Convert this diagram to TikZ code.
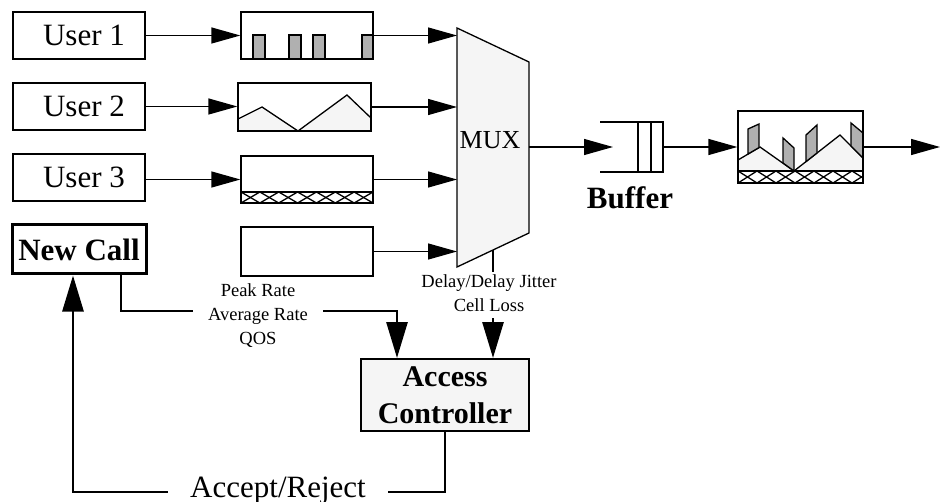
\documentclass[tikz,border=0pt]{standalone}
\usepackage{fontspec}
\setmainfont{Liberation Serif}
\usetikzlibrary{arrows.meta}
\definecolor{lightfill}{HTML}{F5F5F5}
\definecolor{bargrey}{HTML}{B0B0B0}
\begin{document}
\begin{tikzpicture}[x=1pt,y=-1pt,
  thinline/.style={line width=1.3pt},
  ubox/.style={draw, line width=1.3pt, rectangle, inner sep=0pt, minimum width=132pt, minimum height=47pt, font=\fontsize{31}{37}\selectfont},
  sigbox/.style={draw, line width=1.3pt, rectangle, inner sep=0pt},
  arr/.style={line width=1.3pt, -{Triangle[length=29pt,width=16pt]}},
  bigarr/.style={line width=2.8pt, -{Triangle[length=36pt,width=21pt]}},
  bar/.style={draw, line width=1.3pt, fill=bargrey, line join=miter},
  smalltext/.style={font=\fontsize{18.5}{24}\selectfont, align=center},
  hatch/.style={line width=1.3pt},
]
\useasboundingbox (0,0) rectangle (941,502);

% ---------- contents of signal boxes ----------
% box 1 bars
\foreach \a/\b in {253/265, 289/301, 313/325, 362/373}
  \draw[bar] (\a,35) rectangle (\b,59);
% box 2 wave
\fill[lightfill] (238,119) -- (262,107) -- (298,131) -- (347,95) -- (371,118) -- (371,131) -- (238,131) -- cycle;
\draw[thinline] (238,119) -- (262,107) -- (298,131) -- (347,95) -- (371,118);
% box 3 hatched strip
\begin{scope}
  \clip (241,192) rectangle (373,203);
  \foreach \i in {0,...,6} {
    \draw[hatch] (241+\i*18.857,192) -- (241+\i*18.857+18.857,203);
    \draw[hatch] (241+\i*18.857,203) -- (241+\i*18.857+18.857,192);
  }
\end{scope}
\draw[line width=1.6pt] (241,192) rectangle (373,203);

% output box contents
\fill[lightfill] (738,160) -- (760,147) -- (794,171) -- (840,135) -- (863,158) -- (863,171) -- (738,171) -- cycle;
\draw[thinline] (738,160) -- (760,147) -- (794,171) -- (840,135) -- (863,158);
\draw[bar] (748,154) -- (748,129) -- (759,124) -- (759,147.6) -- cycle;
\draw[bar] (783,163) -- (783,138) -- (794,148) -- (794,171) -- cycle;
\draw[bar] (806,161.6) -- (806,135) -- (817,125) -- (817,153) -- cycle;
\draw[bar] (851,146) -- (851,123) -- (863,133) -- (863,158) -- cycle;
\begin{scope}
  \clip (738,171) rectangle (863,183);
  \foreach \i in {0,...,6} {
    \draw[hatch] (738+\i*19,171) -- (738+\i*19+19,183);
    \draw[hatch] (738+\i*19,183) -- (738+\i*19+19,171);
  }
\end{scope}
\draw[line width=1.6pt] (738,171) rectangle (863,183);

% ---------- nodes ----------
\node[ubox] (u1) at (79,35.5) {\hspace*{10pt}User 1};
\node[ubox] (u2) at (79,106.5) {\hspace*{10pt}User 2};
\node[ubox] (u3) at (79,177.5) {\hspace*{10pt}User 3};

\node[sigbox, minimum width=132pt, minimum height=47pt] (b1) at (307,35.5) {};
\node[sigbox, minimum width=133pt, minimum height=48pt] (b2) at (304.5,107) {};
\node[sigbox, minimum width=132pt, minimum height=47pt] (b3) at (307,179.5) {};
\node[sigbox, minimum width=132pt, minimum height=49pt] (b4) at (307,251.5) {};

% MUX
\draw[thinline, fill=lightfill] (457,28) -- (529,62) -- (529,233) -- (457,267) -- cycle;
\node[font=\fontsize{26}{30}\selectfont] (mux) at (490,140) {MUX};
\coordinate (muxL) at (457,0);
\coordinate (muxR) at (529,147);
\coordinate (muxB) at (493,250);
\coordinate (stubEnd) at (493,272);

% buffer
\draw[thinline] (600,122) -- (663,122) -- (663,172) -- (600,172);
\draw[thinline] (638,122) -- (638,172) (651,122) -- (651,172);
\coordinate (bufIn) at (613,147);
\coordinate (bufOut) at (663,147);
\node[font=\bfseries\fontsize{31}{37}\selectfont] (buflab) at (630,198) {Buffer};

% output box
\node[sigbox, minimum width=125pt, minimum height=72pt] (ob) at (800.5,147) {};
\coordinate (outEnd) at (940,147);

% ---------- top arrows ----------
\draw[arr] (u1.east) -- (u1.east -| b1.west);
\draw[arr] (u2.east) -- (u2.east -| b2.west);
\draw[arr] (u3.east |- b3.west) -- (b3.west);
\draw[arr] (b1.east) -- (b1.east -| muxL);
\draw[arr] (b2.east) -- (b2.east -| muxL);
\draw[arr] (b3.east) -- (b3.east -| muxL);
\draw[arr] (b4.east) -- (b4.east -| muxL);
\draw[arr] (muxR) -- (bufIn);
\draw[arr] (bufOut) -- (ob.west);
\draw[arr] (ob.east) -- (outEnd);

% ---------- bottom part ----------
\node[draw, line width=3pt, inner sep=0pt, minimum width=134pt, minimum height=49pt,
      font=\bfseries\fontsize{31}{37}\selectfont] (nc) at (79,249.5) {New Call};
\node[draw, line width=2pt, fill=lightfill, inner sep=0pt, minimum width=168pt, minimum height=72pt,
      align=center, font=\bfseries\fontsize{30}{37}\selectfont] (ac) at (445,395) {Access\\Controller};

\draw[line width=2pt] (muxB) -- (stubEnd);
\node[smalltext] (dlab) at (489,293) {Delay/Delay Jitter\\Cell Loss};
\coordinate (dArr) at (493,318);
\draw[bigarr] (dArr) -- (dArr |- ac.north);

\coordinate (ncOut) at (121,311);
\coordinate (acIn) at (397,311);
\draw[line width=2.8pt, -{Triangle[length=36pt,width=21pt]}] (ncOut |- nc.south) -- (ncOut) -- (acIn) -- (acIn |- ac.north);
\node[smalltext, fill=white, minimum width=130pt, inner sep=2pt] (params) at (258,316) {Peak Rate\\Average Rate\\QOS};

\coordinate (arR) at (445,492);
\coordinate (arL) at (73,492);
\draw[bigarr] (ac.south) -- (ac.south |- arR) -- (arL) -- (arL |- nc.south);
\node[fill=white, minimum width=220pt, inner sep=0pt, anchor=base,
      font=\fontsize{31}{37}\selectfont] (arlab) at (278,497) {Accept/Reject};
\end{tikzpicture}
\end{document}
